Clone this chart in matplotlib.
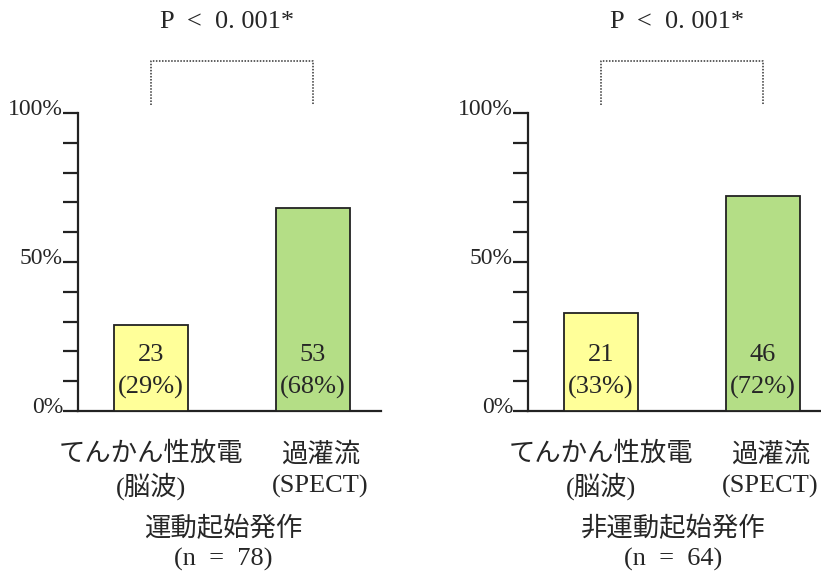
import matplotlib
matplotlib.use("Agg")
import matplotlib.pyplot as plt
from matplotlib import transforms as mtransforms

FAM = ['Liberation Serif', 'Noto Sans CJK JP']
plt.rcParams['font.family'] = FAM

# ---- data ----
cat_line1 = ["てんかん性放電", "過灌流"]
cat_line2 = ["(脳波)", "(SPECT)"]
groups = ["運動起始発作", "非運動起始発作"]
group_n = [78, 64]
counts = [[23, 53], [21, 46]]
percents = [[29, 68], [33, 72]]
p_texts = ["P  <  0. 001*", "P  <  0. 001*"]
ytick_major = [0, 50, 100]
ytick_labels = ["0%", "50%", "100%"]

bar_colors = ["#FFFF99", "#B4DE86"]
edge = "#222222"
txt = "#262626"

W, H = 821, 577
fig = plt.figure(figsize=(W / 100, H / 100), dpi=100)

axes_left_px = [78, 528]
for gi in range(2):
    left = axes_left_px[gi]
    ax = fig.add_axes([left / W, (H - 411) / H, 303 / W, 298 / H])
    ax.set_xlim(-0.4506, 1.4198)
    ax.set_ylim(0, 100)
    for s in ["top", "right"]:
        ax.spines[s].set_visible(False)
    for s in ["left", "bottom"]:
        ax.spines[s].set_color(edge)
        ax.spines[s].set_linewidth(1.6)
    ax.set_xticks([])
    ax.set_yticks(range(0, 101, 10))
    ax.tick_params(axis='y', direction='out', length=10.5, width=1.6,
                   color=edge, labelleft=False)
    ax.patch.set_alpha(0)

    # bars
    xs = [0, 1]
    ax.bar(xs, percents[gi], width=0.457, color=bar_colors,
           edgecolor=edge, linewidth=1.3, zorder=3)

    # value labels
    for x, c, p in zip(xs, counts[gi], percents[gi]):
        ax.text(x, 18.8, f"{c}", ha='center', va='center', fontsize=19,
                color=txt, zorder=4)
        ax.text(x, 8.0, f"({p}%)", ha='center', va='center', fontsize=19,
                color=txt, zorder=4)

    # y tick labels
    tr = mtransforms.offset_copy(ax.get_yaxis_transform(), fig=fig,
                                 x=-15, y=-2, units='dots')
    for v, lab in zip(ytick_major, ytick_labels):
        ax.text(0, v, lab, transform=tr, ha='right', va='baseline',
                fontsize=17, color=txt)

    # category labels
    lab_x = [0.0, 1.045]
    for i in range(2):
        ax.text(lab_x[i], -14.4, cat_line1[i], ha='center', va='center',
                fontsize=19, color=txt, clip_on=False)
        ax.text(lab_x[i], -25.2, cat_line2[i], ha='center', va='center',
                fontsize=19, color=txt, clip_on=False)

    # group labels
    ax.text(0.445, -39.3, groups[gi], ha='center', va='center', fontsize=19,
            color=txt, clip_on=False)
    ax.text(0.445, -49.8, f"(n  =  {group_n[gi]})", ha='center', va='center',
            fontsize=19, color=txt, clip_on=False)

    # significance bracket
    ax.plot([0, 0, 1, 1], [102.7, 117.4, 117.4, 102.7], linestyle=(0, (1, 1)),
            color="#333333", linewidth=1.1, clip_on=False)
    ax.text(0.47, 130.5, p_texts[gi], ha='center', va='center', fontsize=19,
            color=txt, clip_on=False)

fig.savefig("out.png", dpi=100, facecolor="white")
